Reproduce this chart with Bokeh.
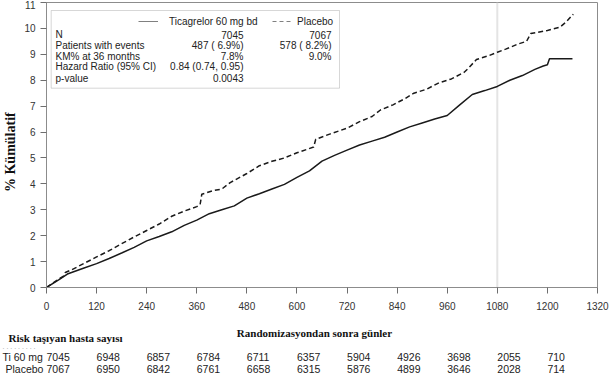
from math import pi
from bokeh.plotting import figure
from bokeh.layouts import column, row
from bokeh.core.properties import value
from bokeh.models import (Range1d, FixedTicker, Label, ColumnDataSource,
                          BoxAnnotation, Span, Legend, LegendItem)
from bokeh.embed import file_html
from bokeh.resources import INLINE

# ---------------- data ----------------
days_tica = [0, 30, 50, 60, 90, 120, 150, 180, 210, 240, 270, 300, 330, 360, 390, 420, 450,
             480, 510, 540, 570, 600, 630, 660, 690, 720, 750, 780, 810, 840, 870, 900, 930,
             960, 990, 1020, 1050, 1080, 1110, 1140, 1170, 1190, 1200, 1205, 1260]
cum_tica = [0, 0.30, 0.52, 0.58, 0.75, 0.92, 1.12, 1.33, 1.55, 1.80, 1.97, 2.15, 2.40, 2.60,
            2.85, 3.00, 3.15, 3.45, 3.62, 3.80, 3.98, 4.25, 4.50, 4.88, 5.10, 5.30, 5.50, 5.65,
            5.80, 6.00, 6.20, 6.35, 6.50, 6.64, 7.05, 7.45, 7.60, 7.76, 8.00, 8.18, 8.42, 8.55,
            8.60, 8.83, 8.83]

days_plac = [0, 30, 42, 45, 60, 90, 120, 150, 180, 210, 240, 270, 300, 330, 360, 368, 372,
             400, 420, 440, 480, 510, 540, 570, 600, 640, 645, 680, 720, 750, 780, 800, 830,
             860, 880, 910, 940, 970, 1000, 1010, 1030, 1060, 1080, 1100, 1130, 1150, 1160,
             1200, 1230, 1245, 1262]
cum_plac = [0, 0.33, 0.45, 0.58, 0.68, 0.93, 1.18, 1.42, 1.69, 1.95, 2.20, 2.45, 2.75, 2.95,
            3.12, 3.20, 3.60, 3.74, 3.80, 4.05, 4.40, 4.70, 4.87, 5.00, 5.20, 5.42, 5.72, 5.93,
            6.15, 6.40, 6.60, 6.85, 7.05, 7.30, 7.50, 7.65, 7.90, 8.05, 8.30, 8.45, 8.80, 8.95,
            9.08, 9.20, 9.40, 9.50, 9.80, 9.92, 10.05, 10.25, 10.55]

x_ticks = [0, 120, 240, 360, 480, 600, 720, 840, 960, 1080, 1200, 1320]
y_ticks = [0, 1, 2, 3, 4, 5, 6, 7, 8, 9, 10, 11]
ref_day = 1080

risk_days = [0, 120, 240, 360, 480, 600, 720, 840, 960, 1080, 1200]
risk_tica = [7045, 6948, 6857, 6784, 6711, 6357, 5904, 4926, 3698, 2055, 710]
risk_plac = [7067, 6950, 6842, 6761, 6658, 6315, 5876, 4899, 3646, 2028, 714]

stat_rows = ["N", "Patients with events", "KM% at 36 months", "Hazard Ratio (95% CI)", "p-value"]
stat_tica = ["7045", "487 ( 6.9%)", "7.8%", "0.84 (0.74, 0.95)", "0.0043"]
stat_plac = ["7067", "578 ( 8.2%)", "9.0%", "", ""]

# ---------------- layout helpers ----------------
W, H = 609, 375
LW = 20                                # width of the y-title strip
MH = 318                               # height of the main plot
FL, FR, FT, FB = 46, 597, 2, 287      # frame edges in page pixels
X0, X1, Y0, Y1 = 0, 1320, 0, 11


def dx(px):
    return X0 + (px - FL) / (FR - FL) * (X1 - X0)


def dy(py):
    return Y0 + (FB - py) / (FB - FT) * (Y1 - Y0)


SANS = "Liberation Sans"
SERIF = "Liberation Serif"


def blank(width, height, xr, yr):
    f = figure(width=width, height=height, output_backend="svg", toolbar_location=None,
               x_range=xr, y_range=yr, min_border_left=0, min_border_right=0,
               min_border_top=0, min_border_bottom=0,
               x_axis_location=None, y_axis_location=None)
    f.xgrid.visible = False
    f.ygrid.visible = False
    f.outline_line_color = None
    f.background_fill_color = "white"
    f.border_fill_color = "white"
    return f


# ---------------- main plot ----------------
p = figure(width=W - LW, height=MH, output_backend="svg", toolbar_location=None,
           x_range=Range1d(X0, X1), y_range=Range1d(Y0, Y1),
           min_border_left=FL - LW, min_border_right=W - FR, min_border_top=FT,
           min_border_bottom=MH - FB)
p.xgrid.visible = False
p.ygrid.visible = False
p.outline_line_color = "#8c8c8c"
p.background_fill_color = "white"
p.border_fill_color = "white"

for ax, ticks in ((p.xaxis[0], x_ticks), (p.yaxis[0], y_ticks)):
    ax.ticker = FixedTicker(ticks=ticks)
    ax.axis_line_color = "#8c8c8c"
    ax.major_tick_line_color = "#6e6e6e"
    ax.major_tick_out = 6
    ax.major_tick_in = 0
    ax.minor_tick_line_color = None
    ax.major_label_text_font = SANS
    ax.major_label_text_font_size = "10px"
    ax.major_label_text_color = "#333333"
p.xaxis[0].major_label_standoff = 8
p.yaxis[0].major_label_standoff = 5

p.add_layout(Span(location=ref_day, dimension="height", line_color="#e4e4e4",
                  line_width=2, level="underlay"))

# curves
p.line(days_tica, cum_tica, line_color="#1a1a1a", line_width=1.5)
p.line(days_plac, cum_plac, line_color="#1a1a1a", line_width=1.5, line_dash="5 3")

# statistics box
p.add_layout(BoxAnnotation(left=dx(50.7), right=dx(339), top=dy(10), bottom=dy(87.7),
                           fill_color="white", fill_alpha=1.0, line_color="#7a7a7a",
                           line_width=1))

# legend proxies (single point -> draw nothing in the plot, only the legend sample)
r_leg_t = p.line(days_tica[:1], cum_tica[:1], line_color="#808080", line_width=1)
r_leg_p = p.line(days_plac[:1], cum_plac[:1], line_color="#808080", line_width=1,
                 line_dash="4 3")


def add_leg(label, rend, px, standoff):
    leg = Legend(items=[LegendItem(label=label, renderers=[rend])],
                 location=(px - FL, FB - 27), orientation="horizontal",
                 padding=0, margin=0, spacing=0, glyph_width=20, glyph_height=12,
                 label_height=12, label_standoff=standoff,
                 label_text_font=SANS, label_text_font_size="10px",
                 label_text_color="#222222", border_line_alpha=0,
                 background_fill_alpha=0)
    p.add_layout(leg, "center")


add_leg("Ticagrelor 60 mg bd", r_leg_t, 138, 11)
add_leg("Placebo", r_leg_p, 272, 5)


def lab(text, px, py, align="left"):
    p.add_layout(Label(x=dx(px), y=dy(py), text=text, text_align=align,
                       text_baseline="middle", text_font_size="10px", text_font=SANS,
                       text_color="#222222"))


row_py = [34, 45, 55.5, 66, 77.5]
for name, vt, vp, py in zip(stat_rows, stat_tica, stat_plac, row_py):
    lab(name, 55, py)
    lab(vt, 243, py, align="right")
    if vp:
        lab(vp, 331, py, align="right")

# ---------------- y title strip ----------------
yt = blank(LW, MH, Range1d(0, LW), Range1d(MH, 0))
yt.text(x=[10], y=[167], text=["% Kümülatif"], angle=pi / 2, text_align="center",
        text_baseline="middle", text_font=value(SERIF), text_font_style="bold",
        text_font_size="14px", text_color="#111111")

# ---------------- bottom strip: x title + risk table ----------------
q = blank(W, H - MH, Range1d(dx(0), dx(W)), Range1d(H, MH))


def qtext(txt, px, py, size="10.5px", font=SANS, style="normal", color="#222222",
          align="left"):
    q.text(x=[dx(px)], y=[py], text=[txt], text_align=align, text_baseline="middle",
           text_font=value(font), text_font_style=style, text_font_size=size,
           text_color=color)


ROW1, ROW2 = 356.5, 368.5
qtext("Randomizasyondan sonra günler", 314, 332, size="11px", font=SERIF, style="bold",
      color="#111111", align="center")
qtext("Risk taşıyan hasta sayısı", 8, 337, size="11px", font=SERIF, style="bold",
      color="#111111")
qtext(". . . . . . . . .", 2, 345.5, size="7px", color="#9a9a9a")
qtext("Ti 60 mg", 2, ROW1)
qtext("Placebo", 5, ROW2)

src_t = ColumnDataSource(dict(day=risk_days, n=[str(v) for v in risk_tica]))
src_p = ColumnDataSource(dict(day=risk_days, n=[str(v) for v in risk_plac]))
for src, py in ((src_t, ROW1), (src_p, ROW2)):
    q.text(x="day", y=py, text="n", source=src, text_align="left",
           text_baseline="middle", text_font=value(SANS), text_font_size="10.5px",
           text_color="#222222")

layout = column(row(yt, p), q)
open("out.html", "w").write(file_html(layout, INLINE))
